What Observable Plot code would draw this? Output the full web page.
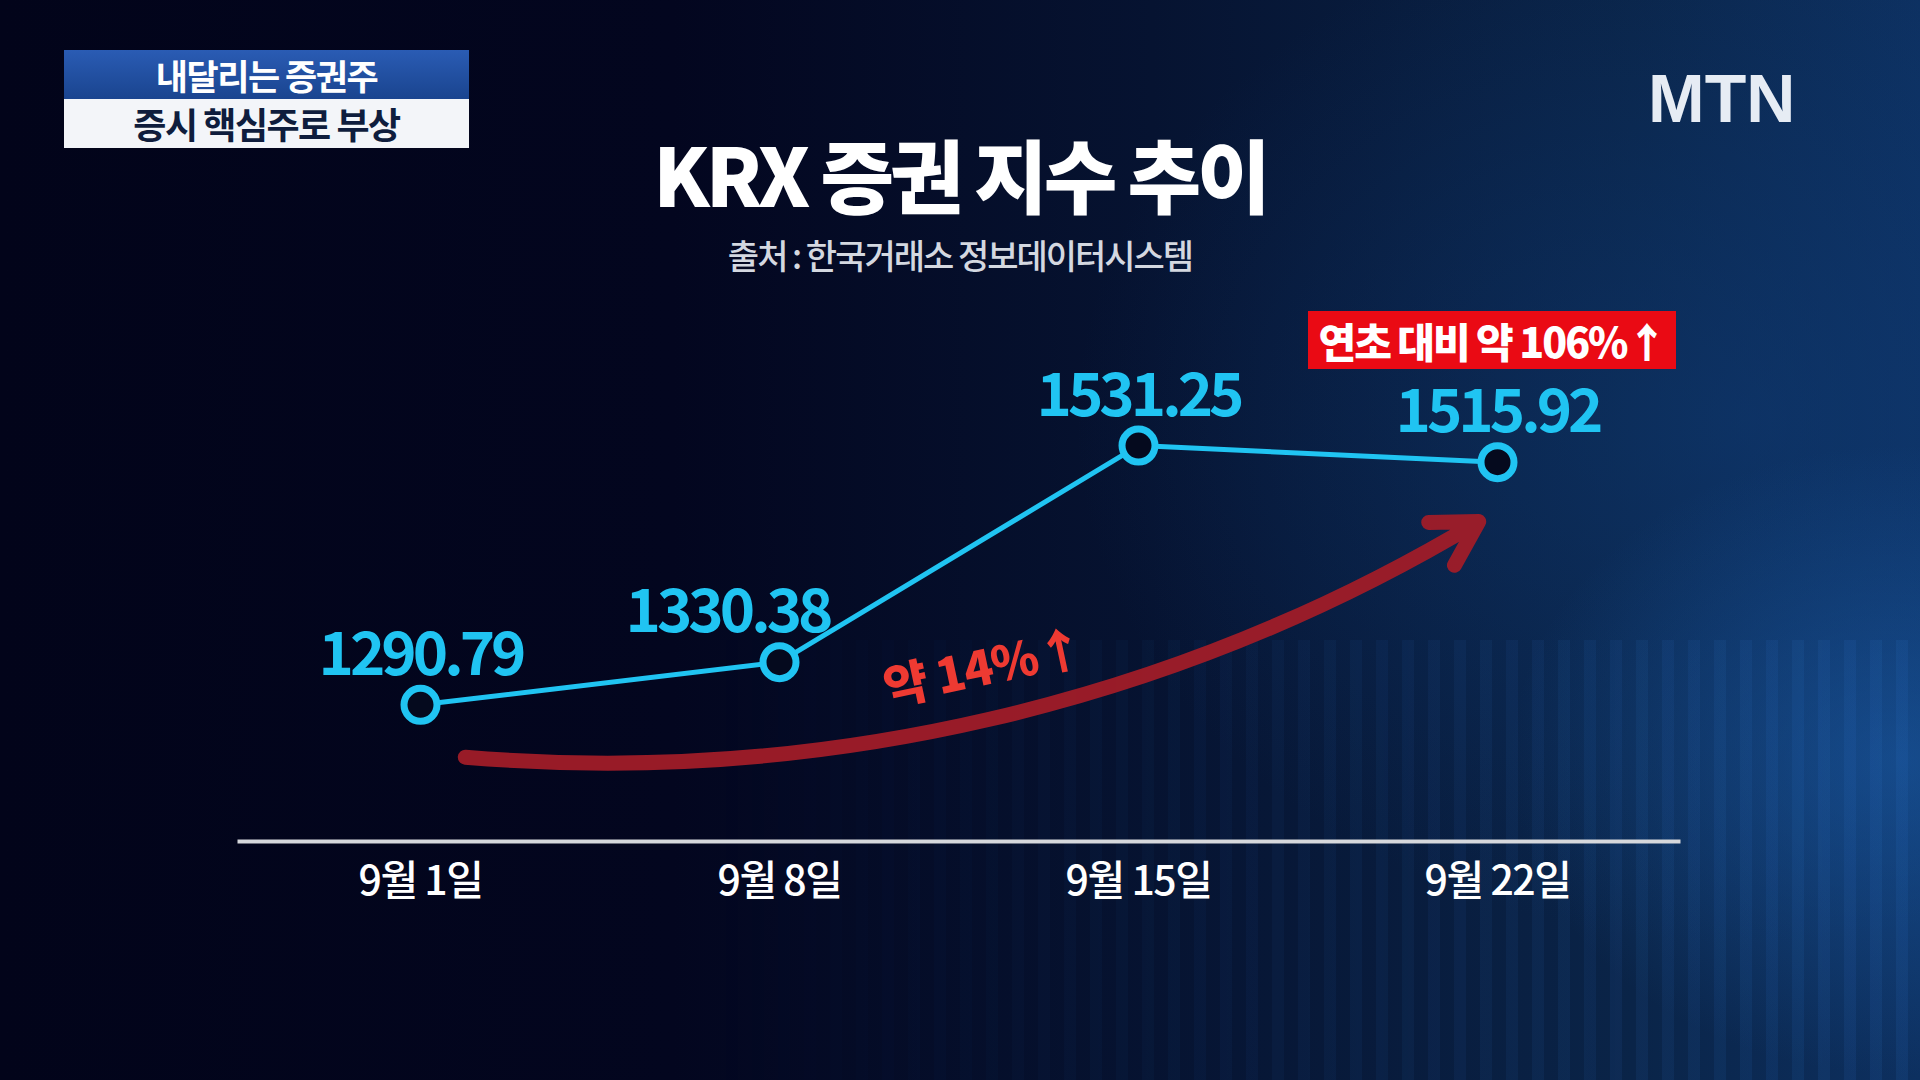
<!DOCTYPE html>
<html><head><meta charset="utf-8">
<script src="https://cdn.jsdelivr.net/npm/d3@7"></script>
<script src="https://cdn.jsdelivr.net/npm/@observablehq/plot@0.6"></script>
<style>
html,body{margin:0;padding:0;width:1920px;height:1080px;overflow:hidden;background:#02041a;}
#stage{position:relative;width:1920px;height:1080px;overflow:hidden;
 background:
  radial-gradient(ellipse 520px 420px at 1900px 760px, rgba(30,100,180,0.5), rgba(0,0,0,0) 75%),
  radial-gradient(ellipse 900px 700px at 1750px 420px, rgba(15,60,120,0.5), rgba(0,0,0,0) 75%),
  linear-gradient(90deg,#02041a 0%,#03061f 35%,#061331 60%,#0a2448 85%,#0d3060 100%);}
#candles{position:absolute;left:700px;top:640px;width:1220px;height:440px;
 background:repeating-linear-gradient(90deg, rgba(50,120,210,0.12) 0 12px, rgba(0,0,0,0) 12px 26px);
 -webkit-mask-image:linear-gradient(90deg, rgba(0,0,0,0) 0%, rgba(0,0,0,0.5) 50%, rgba(0,0,0,1) 100%);
 mask-image:linear-gradient(90deg, rgba(0,0,0,0) 0%, rgba(0,0,0,0.5) 50%, rgba(0,0,0,1) 100%);}
#plot{position:absolute;left:0;top:0;}
.ko{font-family:"Noto Sans CJK KR","Noto Sans",sans-serif;}
#headline{position:absolute;left:64px;top:50px;width:405px;}
#headline .a{height:49px;background:linear-gradient(180deg,#2a5cb4,#1a448f);color:#fff;font-size:35px;font-weight:700;text-align:center;line-height:49px;letter-spacing:-1.5px;}
#headline .b{height:49px;background:#f3f5f9;color:#0f1d3d;font-size:36px;font-weight:700;text-align:center;line-height:49px;letter-spacing:-1.5px;}
#logo{position:absolute;left:1648px;top:64px;font-family:"Liberation Sans",Arial,sans-serif;font-weight:700;font-size:68px;line-height:68px;color:#e6ecf4;}
#title{position:absolute;left:0;width:1920px;top:132px;text-align:center;color:#fff;font-size:80px;font-weight:900;line-height:80px;letter-spacing:-4px;}
#source{position:absolute;left:0;width:1920px;top:237px;text-align:center;color:#d4d8e0;font-size:34px;font-weight:500;line-height:36px;letter-spacing:-2px;}
#yearBox{position:absolute;left:1308px;top:311px;width:368px;height:58px;background:#ea0a14;color:#fff;font-size:41px;font-weight:900;text-align:center;line-height:58px;letter-spacing:-2px;}
#weekLbl{position:absolute;left:983px;top:664px;transform:translate(-50%,-50%) rotate(-12deg);color:#ee3a32;font-size:48px;font-weight:900;white-space:nowrap;letter-spacing:-1px;}
#plot g[aria-label="text"] text{letter-spacing:-4px;}
#plot g[aria-label="x-axis tick label"] text{letter-spacing:-1.5px;}
</style>
</head><body>
<div id="stage">
  <div id="candles"></div>
  <div id="plot"></div>
  <div id="headline" class="ko"><div class="a" id="h1"></div><div class="b" id="h2"></div></div>
  <div id="logo"></div>
  <div id="title" class="ko"></div>
  <div id="source" class="ko"></div>
  <div id="yearBox" class="ko"></div>
  <div id="weekLbl" class="ko"></div>
</div>
<script>
const dates = ["9월 1일", "9월 8일", "9월 15일", "9월 22일"];
const values = [1290.79, 1330.38, 1531.25, 1515.92];
const valueLabels = ["1290.79", "1330.38", "1531.25", "1515.92"];
const titleText = "KRX 증권 지수 추이";
const sourceText = "출처 : 한국거래소 정보데이터시스템";
const headlineTop = "내달리는 증권주";
const headlineBottom = "증시 핵심주로 부상";
const logoText = "MTN";
const weekChange = "약 14%↑";
const yearChange = "연초 대비 약 106%↑";

const cyan = "#20c4f2";
const data = dates.map((d, i) => ({date: d, value: values[i], label: valueLabels[i], i}));
const trend = [{x1: dates[0], y1: values[0], x2: dates[dates.length - 1], y2: values[values.length - 1]}];

const chart = Plot.plot({
  width: 1920, height: 1080,
  marginLeft: 239, marginRight: 242, marginTop: 371, marginBottom: 239,
  style: {background: "transparent", color: "#fff", fontFamily: "'Noto Sans CJK KR','Noto Sans',sans-serif", overflow: "visible"},
  x: {type: "point", domain: dates, padding: 0.5, label: null},
  y: {domain: [1164, 1600], axis: null},
  marks: [
    Plot.arrow(trend, {x1: "x1", y1: "y1", x2: "x2", y2: "y2", bend: -19, stroke: "#a01c28", strokeWidth: 15, headLength: 5, insetStart: 45, insetEnd: 22, dy: 48, strokeLinecap: "round", strokeOpacity: 0.95}),
    Plot.frame({anchor: "bottom", stroke: "#d6d8dc", strokeWidth: 4}),
    Plot.axisX({tickSize: 0, tickPadding: 24, fontSize: 41, fontWeight: 500, fill: "#ffffff", label: null}),
    Plot.line(data, {x: "date", y: "value", stroke: cyan, strokeWidth: 5}),
    Plot.dot(data, {x: "date", y: "value", r: 16.5, stroke: cyan, strokeWidth: 7, fill: "#050a1e"}),
    Plot.text(data.filter(d => d.i !== 1), {x: "date", y: "value", text: "label", lineAnchor: "bottom", dy: -30, fill: cyan, fontSize: 60, fontWeight: 700}),
    Plot.text(data.filter(d => d.i === 1), {x: "date", y: "value", text: "label", lineAnchor: "bottom", dy: -30, dx: -52, fill: cyan, fontSize: 60, fontWeight: 700})
  ]
});
document.getElementById("plot").appendChild(chart);
document.getElementById("h1").textContent = headlineTop;
document.getElementById("h2").textContent = headlineBottom;
document.getElementById("logo").textContent = logoText;
document.getElementById("title").textContent = titleText;
document.getElementById("source").textContent = sourceText;
document.getElementById("yearBox").textContent = yearChange;
document.getElementById("weekLbl").textContent = weekChange;
</script>
</body></html>
